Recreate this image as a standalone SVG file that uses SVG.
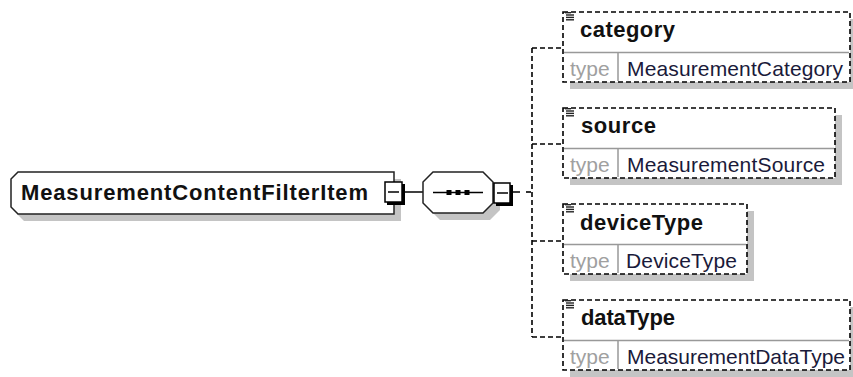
<svg xmlns="http://www.w3.org/2000/svg" width="853" height="377" viewBox="0 0 853 377">
<style>
.shadow{fill:#c4c4c4;stroke:none}
.node{fill:#fff;stroke:#222;stroke-width:1.5}
.box{fill:#fff;stroke:#000;stroke-width:1.5}
.thick{stroke:#000;stroke-width:3;fill:none}
.solid{stroke:#000;stroke-width:1.5;fill:none}
.dash{stroke:#000;stroke-width:1.6;fill:none;stroke-dasharray:5 3}
.elem{fill:#fff;stroke:#000;stroke-width:1.6;stroke-dasharray:5 3}
.div{stroke:#999;stroke-width:1.5;fill:none}
.icon{stroke:#222;stroke-width:1.4}
.title{font-family:"Liberation Sans",Arial,sans-serif;font-weight:bold;font-size:22px;fill:#111}
.tlabel{font-family:"Liberation Sans",Arial,sans-serif;font-size:21px;fill:#a0a0a0}
.tname{font-family:"Liberation Sans",Arial,sans-serif;font-size:21px;fill:#1a1a3a}
</style>
<defs>
<g id="ico">
<line class="icon" x1="565" y1="0.7" x2="571" y2="0.7"/>
<line class="icon" x1="566" y1="3" x2="574" y2="3"/>
<line class="icon" x1="566" y1="5.4" x2="574" y2="5.4"/>
<line class="icon" x1="566" y1="7.8" x2="574" y2="7.8"/>
</g>
</defs>

<g id="connectors">
<line class="solid" x1="405" y1="192" x2="423" y2="192"/>
<line class="solid" x1="513" y1="192" x2="520" y2="192"/>
<line class="dash" x1="526" y1="192" x2="532" y2="192"/>
<line class="dash" x1="532" y1="48" x2="532" y2="337"/>
<line class="dash" x1="532" y1="48" x2="563" y2="48"/>
<line class="dash" x1="532" y1="144" x2="563" y2="144"/>
<line class="dash" x1="532" y1="241" x2="563" y2="241"/>
<line class="dash" x1="532" y1="337" x2="563" y2="337"/>
</g>

<g id="MeasurementContentFilterItem">
<path class="shadow" d="M24,179 H401 V221 H24 L17,214 V186 Z"/>
<path class="node" d="M18,172 H394 V214 H18 L11,207 V179 Z"/>
<text class="title" x="21" y="200" textLength="347" lengthAdjust="spacing">MeasurementContentFilterItem</text>
<rect class="box" x="385" y="182" width="17" height="20"/>
<line class="thick" x1="403.5" y1="184" x2="403.5" y2="205"/>
<line class="thick" x1="387" y1="203.5" x2="405" y2="203.5"/>
<line class="solid" x1="388" y1="192" x2="399" y2="192"/>
</g>

<g id="sequence">
<path class="shadow" d="M440,179 H490 L500,189 V210 L490,220 H440 L430,210 V189 Z"/>
<path class="node" d="M433,172 H483 L493,182 V203 L483,213 H433 L423,203 V182 Z"/>
<line class="solid" x1="433" y1="192.5" x2="483" y2="192.5"/>
<rect x="446.5" y="190" width="5" height="5" fill="#000"/>
<rect x="455.5" y="190" width="5" height="5" fill="#000"/>
<rect x="464.5" y="190" width="5" height="5" fill="#000"/>
<rect class="box" x="494" y="183" width="16" height="20"/>
<line class="thick" x1="511.5" y1="185" x2="511.5" y2="206"/>
<line class="thick" x1="496" y1="204.5" x2="513" y2="204.5"/>
<line class="solid" x1="497" y1="193" x2="508" y2="193"/>
</g>

<g id="category">
<rect class="shadow" x="570" y="19" width="287" height="70"/>
<rect class="elem" x="563" y="12" width="287" height="70"/>
<line class="div" x1="564" y1="52.5" x2="849" y2="52.5"/>
<line class="div" x1="618" y1="53" x2="618" y2="81"/>
<use href="#ico" transform="translate(0,12)"/>
<text class="title" x="580" y="37" textLength="95" lengthAdjust="spacing">category</text>
<text class="tlabel" x="570" y="76">type</text>
<text class="tname" x="627" y="76" textLength="216" lengthAdjust="spacing">MeasurementCategory</text>
</g>

<g id="source">
<rect class="shadow" x="570" y="115" width="272" height="70"/>
<rect class="elem" x="563" y="108" width="272" height="70"/>
<line class="div" x1="564" y1="148.5" x2="834" y2="148.5"/>
<line class="div" x1="618" y1="149" x2="618" y2="177"/>
<use href="#ico" transform="translate(0,108)"/>
<text class="title" x="581" y="133" textLength="75" lengthAdjust="spacing">source</text>
<text class="tlabel" x="570" y="172">type</text>
<text class="tname" x="627" y="172" textLength="198" lengthAdjust="spacing">MeasurementSource</text>
</g>

<g id="deviceType">
<rect class="shadow" x="570" y="211" width="184" height="70"/>
<rect class="elem" x="563" y="204" width="184" height="70"/>
<line class="div" x1="564" y1="244.5" x2="746" y2="244.5"/>
<line class="div" x1="618" y1="245" x2="618" y2="273"/>
<use href="#ico" transform="translate(0,204)"/>
<text class="title" x="580" y="230" textLength="123" lengthAdjust="spacing">deviceType</text>
<text class="tlabel" x="570" y="268">type</text>
<text class="tname" x="626" y="268" textLength="111" lengthAdjust="spacing">DeviceType</text>
</g>

<g id="dataType">
<rect class="shadow" x="570" y="307" width="287" height="70"/>
<rect class="elem" x="563" y="300" width="287" height="70"/>
<line class="div" x1="564" y1="340.5" x2="849" y2="340.5"/>
<line class="div" x1="618" y1="341" x2="618" y2="369"/>
<use href="#ico" transform="translate(0,300)"/>
<text class="title" x="581" y="325" textLength="94" lengthAdjust="spacing">dataType</text>
<text class="tlabel" x="570" y="364">type</text>
<text class="tname" x="627" y="364" textLength="218" lengthAdjust="spacing">MeasurementDataType</text>
</g>
</svg>
